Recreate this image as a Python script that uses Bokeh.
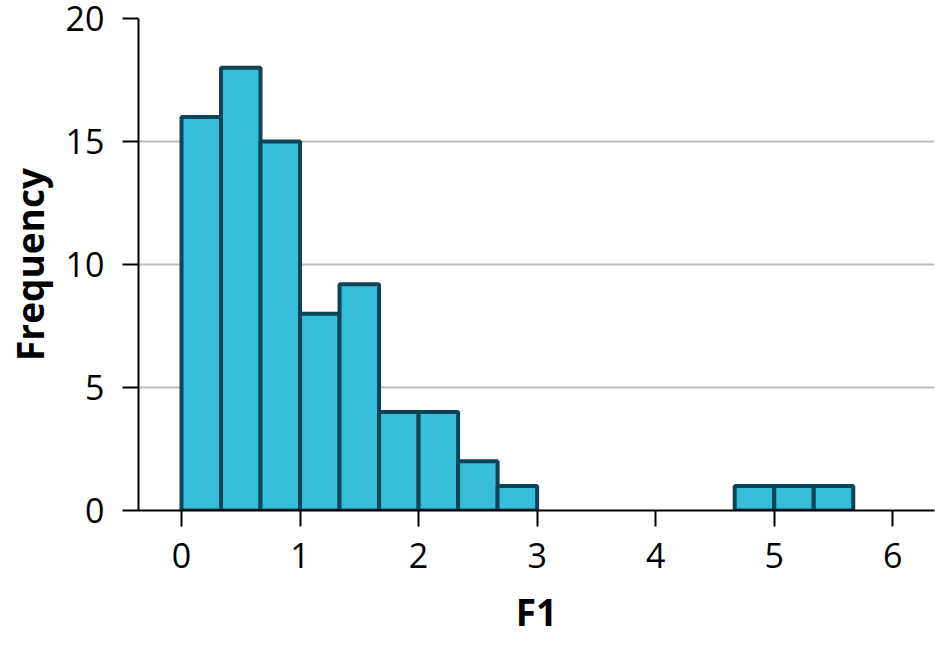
from bokeh.plotting import figure
from bokeh.models import Range1d, FixedTicker, ColumnDataSource
from bokeh.embed import file_html
from bokeh.resources import INLINE

# Histogram data
bin_width = 1 / 3
bin_left = [0.0, 1/3, 2/3, 1.0, 4/3, 5/3, 2.0, 7/3, 8/3, 14/3, 5.0, 16/3]
frequency = [16, 18, 15, 8, 9.2, 4, 4, 2, 1, 1, 1, 1]
x_ticks = [0, 1, 2, 3, 4, 5, 6]
y_ticks = [0, 5, 10, 15, 20]
x_title = "F1"
y_title = "Frequency"

src = ColumnDataSource(dict(
    left=bin_left,
    right=[b + bin_width for b in bin_left],
    top=frequency,
    bottom=[0] * len(frequency),
))

FONT = "Open Sans"

p = figure(width=935, height=645, output_backend="svg", toolbar_location=None,
           x_range=Range1d(-0.3627, 6.352), y_range=Range1d(0, 20),
           min_border_left=138, min_border_right=1, min_border_top=18,
           min_border_bottom=135)
p.outline_line_color = None
p.background_fill_color = "white"
p.border_fill_color = "white"

p.xgrid.visible = False
p.ygrid.grid_line_color = "#bdbdbd"
p.ygrid.grid_line_width = 2
p.ygrid.ticker = FixedTicker(ticks=y_ticks)

p.quad(left="left", right="right", top="top", bottom="bottom", source=src,
       fill_color="#35BDD9", line_color="#0D4457", line_width=4)

for ax in (p.xaxis[0], p.yaxis[0]):
    ax.axis_line_width = 2
    ax.axis_line_color = "black"
    ax.major_tick_line_width = 2
    ax.major_tick_line_color = "black"
    ax.major_tick_out = 16
    ax.major_tick_in = 0
    ax.minor_tick_out = 0
    ax.minor_tick_in = 0
    ax.major_label_text_font = FONT
    ax.major_label_text_font_size = "34px"
    ax.major_label_text_color = "black"
    ax.axis_label_text_font = FONT
    ax.axis_label_text_font_size = "37px"
    ax.axis_label_text_font_style = "bold"
    ax.axis_label_text_color = "black"

p.xaxis.ticker = FixedTicker(ticks=x_ticks)
p.yaxis.ticker = FixedTicker(ticks=y_ticks)
p.xaxis.axis_label = x_title
p.yaxis.axis_label = y_title
p.xaxis.major_label_standoff = 16
p.yaxis.major_label_standoff = 18
p.xaxis.axis_label_standoff = 15
p.yaxis.axis_label_standoff = 8

open("out.html", "w").write(file_html(p, INLINE))
